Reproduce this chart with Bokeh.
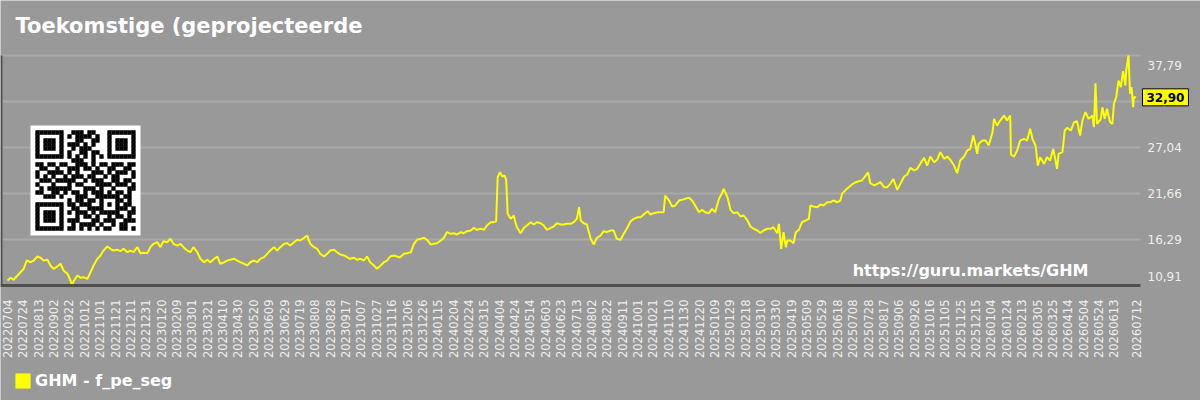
import math
from datetime import date, timedelta

from bokeh.plotting import figure
from bokeh.models import Range1d, LinearAxis, FixedTicker, Label, Legend, LegendItem
from bokeh.core.properties import value
from bokeh.embed import file_html
from bokeh.resources import INLINE

# ---------------- data ----------------
START = date(2022, 7, 4)
title_text = "Toekomstige (geprojecteerde"
series_name = "GHM - f_pe_seg"
watermark = "https://guru.markets/GHM"

# day offsets from 2022-07-04 and the read-off forward P/E values
days = [
    0, 4, 8, 13, 17, 21, 25, 30, 34, 39, 43, 47, 52, 56, 60, 65, 69, 73, 78, 82,
    84, 86, 91, 95, 99, 104, 108, 112, 117, 121, 125, 130, 134, 138, 143, 147, 151, 156, 160, 164,
    169, 173, 177, 182, 186, 190, 195, 199, 203, 208, 212, 216, 221, 225, 229, 234, 238, 242, 247, 251,
    256, 260, 264, 269, 273, 277, 282, 286, 290, 295, 299, 303, 308, 312, 316, 321, 325, 329, 334, 338,
    342, 347, 351, 355, 360, 364, 368, 373, 377, 381, 386, 390, 394, 399, 403, 407, 412, 416, 420, 425,
    429, 433, 438, 442, 446, 451, 455, 459, 464, 468, 472, 477, 481, 485,
    490, 494, 498, 503, 507, 511, 516, 520, 525, 529, 533, 538, 542, 546, 551, 555, 559, 564, 568, 572,
    577, 581, 585, 590, 594, 598, 603, 607, 611, 616, 620, 624, 629, 633, 636, 638, 641, 644, 647, 649,
    651, 655, 659, 661, 663, 668, 672, 676, 681, 685, 689, 694, 698, 702, 707, 711, 715, 720, 724, 728,
    733, 737, 741, 744, 746, 750, 754, 759, 763, 767, 772, 776, 780, 785, 789, 793, 798, 802, 806, 811,
    815, 820, 824, 828, 833, 837, 841, 846, 850, 854, 856, 861, 865, 869, 874, 878, 882, 887, 891, 895,
    900, 904, 908, 913, 917, 921, 926, 930, 932, 937, 941, 945, 950, 954, 958, 963, 967, 971, 976, 980,
    984, 989, 993, 997, 1002, 1004, 1007, 1010, 1013, 1015, 1019, 1023, 1026, 1030, 1034, 1039, 1043, 1045, 1049, 1054,
    1058, 1062, 1067, 1071, 1075, 1080, 1084, 1086, 1091, 1095, 1099, 1104, 1108, 1112, 1117, 1120, 1123, 1128, 1132, 1136,
    1141, 1145, 1149, 1153, 1158, 1162, 1167, 1171, 1175, 1180, 1184, 1188, 1193, 1197, 1201, 1206, 1210, 1214, 1219, 1223,
    1227, 1232, 1236, 1240, 1245, 1249, 1253, 1257, 1260, 1262, 1264, 1269, 1273, 1277, 1282, 1284, 1288, 1292, 1297, 1301,
    1305, 1306, 1310, 1314, 1318, 1323, 1327, 1331, 1334, 1338, 1341, 1344, 1349, 1353, 1357, 1361, 1364, 1366, 1368, 1373,
    1376, 1379, 1384, 1388, 1392, 1396, 1399, 1403, 1407, 1412, 1414, 1416, 1418, 1423, 1425, 1428, 1431, 1435, 1438, 1440,
    1443, 1446, 1449, 1452, 1455, 1456, 1459, 1461, 1463, 1465, 1466, 1469,
]
pe_values = [
    11.49, 11.81, 11.58, 12.08, 12.46, 12.86, 13.83, 13.63, 13.83, 14.30, 14.15, 13.83, 13.91, 13.25, 12.86, 13.13, 13.45, 12.66, 12.28, 11.49,
    10.91, 11.41, 12.08, 11.81, 11.88, 11.69, 12.46, 13.25, 14.03, 14.42, 15.00, 15.47, 15.20, 15.00, 15.08, 14.92, 15.20, 14.80, 15.00, 14.80,
    15.39, 14.68, 14.73, 14.68, 15.39, 15.78, 15.97, 15.39, 16.09, 15.97, 16.37, 15.78, 15.58, 15.78, 15.39, 15.00, 14.80, 15.39, 14.80, 14.03,
    13.63, 13.91, 13.63, 14.03, 14.30, 13.45, 13.63, 13.83, 13.91, 14.03, 13.83, 13.63, 13.45, 13.25, 13.63, 13.83, 13.63, 14.03, 14.22, 14.61,
    15.00, 15.39, 15.00, 15.39, 15.78, 15.85, 15.58, 15.97, 16.25, 16.17, 16.48, 16.75, 15.78, 15.39, 15.20, 14.61, 14.30, 14.61, 15.00, 15.08,
    14.80, 14.53, 14.42, 14.22, 14.03, 14.15, 13.91, 14.03, 13.83, 14.30, 13.63, 13.25, 12.86, 13.20,
    13.63, 13.83, 14.30, 14.42, 14.30, 14.22, 14.61, 14.68, 14.80, 15.78, 16.25, 16.37, 16.48, 16.25, 15.70, 15.78, 15.85, 16.17, 16.48, 17.14,
    16.95, 17.02, 16.87, 17.14, 17.02, 17.26, 17.34, 17.65, 17.42, 17.54, 17.42, 17.92, 18.31, 18.31, 18.42, 23.56, 24.15, 23.65, 23.76, 23.26,
    19.29, 18.70, 19.09, 18.31, 17.72, 17.02, 17.65, 17.92, 18.31, 18.04, 18.31, 18.19, 17.92, 17.42, 17.65, 17.80, 18.19, 18.04, 18.04, 18.12,
    18.12, 18.31, 18.70, 20.07, 18.51, 18.19, 18.04, 16.37, 15.70, 16.48, 16.75, 17.26, 17.14, 17.34, 17.34, 16.37, 16.25, 16.95, 17.54, 18.42,
    18.70, 18.89, 18.89, 19.21, 19.60, 19.21, 19.36, 19.47, 19.47, 19.47, 21.43, 20.84, 20.14, 20.26, 20.84, 20.92, 21.04, 21.16, 20.84, 20.26,
    19.47, 19.75, 19.47, 19.36, 19.87, 19.47, 21.04, 21.70, 22.21, 21.23, 19.75, 19.36, 19.47, 18.97, 19.09, 18.51, 17.80, 17.54, 17.34, 17.05,
    17.34, 17.54, 17.54, 17.72, 17.02, 18.12, 15.20, 17.14, 15.39, 16.17, 16.17, 15.85, 17.14, 17.42, 18.31, 18.51, 18.70, 20.26, 20.14, 20.06,
    20.37, 20.26, 20.64, 20.64, 20.84, 20.64, 20.84, 21.62, 22.09, 22.40, 22.71, 22.98, 23.10, 23.18, 23.76, 24.15, 22.86, 22.60, 22.79, 22.98,
    22.40, 22.40, 22.79, 23.38, 22.09, 22.79, 23.65, 23.88, 24.66, 24.35, 24.55, 25.13, 25.83, 24.93, 25.98, 25.32, 25.60, 26.49, 25.71, 25.98,
    25.60, 24.93, 24.03, 25.52, 25.98, 26.68, 26.88, 28.44, 27.27, 26.30, 27.47, 27.85, 27.85, 27.27, 28.82, 30.39, 29.61, 30.19, 30.77, 30.19,
    30.77, 26.22, 25.98, 26.68, 27.85, 28.05, 27.85, 29.22, 28.05, 27.27, 24.93, 25.90, 25.13, 25.90, 25.52, 26.88, 25.52, 24.55, 26.30, 26.49,
    29.02, 29.34, 29.02, 29.99, 30.11, 28.44, 30.19, 31.17, 30.39, 30.77, 29.41, 34.55, 29.80, 30.39, 31.74, 30.39, 31.57, 29.99, 29.80, 32.14,
    32.91, 34.86, 34.08, 35.95, 34.28, 36.03, 37.79, 33.31, 34.08, 31.74, 32.91, 32.90,
]
last_value = pe_values[-1]

x_tick_days = list(range(0, 1441, 20)) + [1469]
x_tick_labels = [(START + timedelta(days=d)).strftime("%Y%m%d") for d in x_tick_days]

y_ticks = [10.91, 16.286, 21.662, 27.038, 32.414, 37.79]
y_tick_labels = ["10,91", "16,29", "21,66", "27,04", "32,41", "37,79"]

# QR code decoration (25 x 25 modules)
qr_rows = [
    "1111111" + "0" + "011101100" + "0" + "1111111",
    "1000001" + "0" + "101111010" + "0" + "1000001",
    "1011101" + "0" + "001100110" + "0" + "1011101",
    "1011101" + "0" + "111010100" + "0" + "1011101",
    "1011101" + "0" + "010111000" + "0" + "1011101",
    "1000001" + "0" + "100110110" + "0" + "1000001",
    "1111111" + "0" + "101010101" + "0" + "1111111",
    "00000000" + "011100100" + "00000000",
    "1101101100111010110111011",
    "0110010011101101001100110",
    "1001111010100011101011101",
    "1010100101110110010110001",
    "0111011111001011100110110",
    "1000100010110001111011101",
    "0101111110001110100100011",
    "1100110101101011101011010",
    "0011101000111001" + "11111" + "0110",
    "00000000" + "10110110" + "10001" + "1010",
    "1111111" + "0" + "11011100" + "10101" + "0110",
    "1000001" + "0" + "01100111" + "10001" + "1101",
    "1011101" + "0" + "10111010" + "11111" + "0011",
    "1011101" + "0" + "00101101" + "001011010",
    "1011101" + "0" + "11100011" + "011100111",
    "1000001" + "0" + "01011110" + "100101100",
    "1111111" + "0" + "11010101" + "011001101",
]

# ---------------- styling / geometry ----------------
BG = "#999999"
GRID = "#a9a9a9"
AXIS = "#505050"
TXT = "#eeeeee"
YELLOW = "#ffff00"
FONT = "DejaVu Sans"

W, H = 1200, 400
FT, FB = 55, 285          # top / bottom of the price area (px)
PLOT_R = 1140             # right end of the price area (px)
x0 = -9.1
x_end = 1474.6            # data x at PLOT_R
x1 = x0 + (x_end - x0) * W / PLOT_R
v_lo, v_hi = y_ticks[0], y_ticks[-1]
per_px = (v_hi - v_lo) / (FB - FT)
y_top = v_hi + FT * per_px
y_bot = v_lo - (H - FB) * per_px


def sx2x(px):
    return x0 + px / W * (x1 - x0)


def sy2y(py):
    return y_top - py * per_px


p = figure(width=W, height=H, x_range=Range1d(x0, x1), y_range=Range1d(y_bot, y_top),
           output_backend="svg", toolbar_location=None,
           x_axis_location=None, y_axis_location=None,
           min_border_left=0, min_border_right=0, min_border_top=0, min_border_bottom=0,
           background_fill_color=BG, border_fill_color=BG, outline_line_color=None)
p.title.visible = False
p.grid.visible = False

# horizontal grid lines of the price area
p.segment(x0=[x0] * len(y_ticks), y0=y_ticks, x1=[x_end] * len(y_ticks), y1=y_ticks,
          line_color=GRID, line_width=2)
# left edge line of the price area
p.segment(x0=[sx2x(1)], y0=[v_lo], x1=[sx2x(1)], y1=[v_hi], line_color=AXIS, line_width=2)

# bottom date axis, pinned to the lower edge of the price area
xaxis = LinearAxis(ticker=FixedTicker(ticks=x_tick_days),
                   major_label_overrides=dict(zip(x_tick_days, x_tick_labels)),
                   major_label_orientation=math.pi / 2, bounds=(x0, x_end),
                   fixed_location=v_lo,
                   axis_line_color=AXIS, axis_line_width=3,
                   major_tick_line_color=None, minor_tick_line_color=None,
                   major_tick_in=0, major_tick_out=0, major_label_standoff=14,
                   major_label_text_color=TXT, major_label_text_font=FONT,
                   major_label_text_font_size="11.5px")
p.add_layout(xaxis, "below")

# right value labels (end labels nudged inside as in the reference)
y_label_nudge = [-9, 0, 0, 0, 0, 10]
p.text(x=[sx2x(PLOT_R + 7)] * len(y_ticks), y=y_ticks, text=y_tick_labels, y_offset=y_label_nudge,
       text_align="left", text_baseline="middle", text_color=TXT,
       text_font=value(FONT), text_font_size="12px")

# QR code
p.rect(x=[sx2x(85)], y=[sy2y(180)], width=110, height=110,
       width_units="screen", height_units="screen", fill_color="white", line_color=None)
qx, qy = [], []
for r, row in enumerate(qr_rows):
    for c, ch in enumerate(row):
        if ch == "1":
            qx.append(sx2x(35 + 4 * c + 2))
            qy.append(sy2y(130 + 4 * r + 2))
p.rect(x=qx, y=qy, width=4.3, height=4.3, width_units="screen", height_units="screen",
       fill_color="black", line_color=None)

# the series
p.line(days, pe_values, line_color=YELLOW, line_width=2)

# last value marker
p.add_layout(Label(x=PLOT_R + 2, y=last_value, x_units="screen", y_units="data",
                   text=f"{last_value:.2f}".replace(".", ","), text_baseline="middle",
                   text_color="black", text_font=FONT, text_font_style="bold", text_font_size="12px",
                   background_fill_color=YELLOW, border_line_color="black", border_line_width=1,
                   padding=4))

# title and watermark
p.add_layout(Label(x=15, y=H - 25, x_units="screen", y_units="screen", text=title_text,
                   text_baseline="middle", text_color="white", text_font=FONT,
                   text_font_style="bold", text_font_size="21px"))
p.add_layout(Label(x=1088, y=H - 270, x_units="screen", y_units="screen", text=watermark,
                   text_align="right", text_baseline="middle", text_color="white", text_font=FONT,
                   text_font_style="bold", text_font_size="16px"))

# legend at the bottom left (swatch renderer sits outside the visible ranges)
swatch = p.rect(x=[x0 - 1000], y=[y_bot - 100], width=1, height=1, fill_color=YELLOW, line_color=None)
legend = Legend(items=[LegendItem(label=series_name, renderers=[swatch])],
                location=(13, H - 371 - 19), orientation="horizontal", margin=0, padding=0, spacing=0,
                glyph_width=19, glyph_height=19, label_height=19, label_standoff=3,
                label_text_color="white", label_text_font=FONT, label_text_font_style="bold",
                label_text_font_size="16px", background_fill_alpha=0, border_line_alpha=0)
p.add_layout(legend, "center")

open("out.html", "w").write(file_html(p, INLINE))
